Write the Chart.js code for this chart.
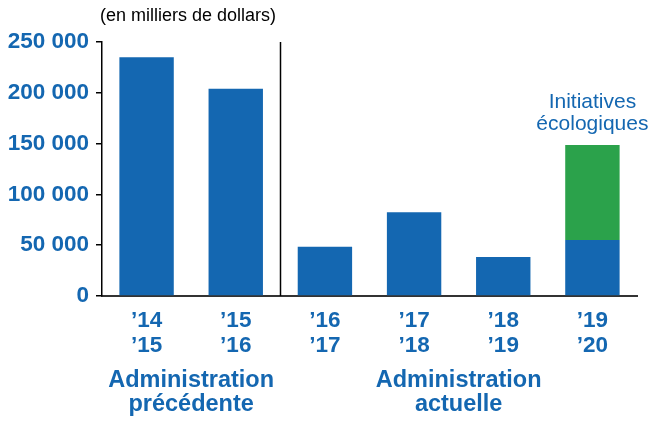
<!DOCTYPE html>
<html>
<head>
<meta charset="utf-8">
<script src="https://cdn.jsdelivr.net/npm/chart.js@4/dist/chart.umd.min.js"></script>
<style>
  html, body { margin: 0; padding: 0; background: #fff; }
  #wrap { width: 649px; height: 422px; position: relative; }
</style>
</head>
<body>
<div id="wrap"><canvas id="budgetChart"></canvas></div>
<script>
// exercices financiers (deux lignes par etiquette)
var yearsTop    = ['\u201914', '\u201915', '\u201916', '\u201917', '\u201918', '\u201919'];
var yearsBottom = ['\u201915', '\u201916', '\u201917', '\u201918', '\u201919', '\u201920'];
// en milliers de dollars
var baseValues  = [235000, 204000, 48500, 82500, 38500, 55000];
var greenValues = [0, 0, 0, 0, 0, 93500];
var yTicks      = [0, 50000, 100000, 150000, 200000, 250000];
var groupNames  = [['Administration', 'précédente'], ['Administration', 'actuelle']];
var groupSpans  = [[0, 1], [2, 5]];
var noteText    = ['Initiatives', 'écologiques'];
var unitText    = '(en milliers de dollars)';

var blue  = '#1467b1';
var green = '#2ba24b';
var font  = '"Liberation Sans", Arial, sans-serif';

var fmt = function(v) {
    return String(v).replace(/\B(?=(\d{3})+(?!\d))/g, ' ');
};

// divider, group names, note and unit label
var extras = {
    id: 'extras',
    afterDraw: function(chart) {
        var ctx = chart.ctx;
        var x = chart.scales.x, y = chart.scales.y;
        var area = chart.chartArea;

        ctx.save();
        // vertical divider between the two administrations
        var dx = Math.round((x.getPixelForValue(1) + x.getPixelForValue(2)) / 2) + 0.5;
        ctx.strokeStyle = '#000';
        ctx.lineWidth = 1.5;
        ctx.beginPath();
        ctx.moveTo(dx, area.top);
        ctx.lineTo(dx, area.bottom);
        ctx.stroke();

        // unit
        ctx.fillStyle = '#000';
        ctx.font = '18px ' + font;
        ctx.textAlign = 'left';
        ctx.textBaseline = 'middle';
        ctx.fillText(unitText, 100, 16);

        // groups
        ctx.fillStyle = blue;
        ctx.font = 'bold 23.5px ' + font;
        ctx.textAlign = 'center';
        ctx.textBaseline = 'alphabetic';
        groupNames.forEach(function(lines, i) {
            var gx = (x.getPixelForValue(groupSpans[i][0]) + x.getPixelForValue(groupSpans[i][1])) / 2;
            lines.forEach(function(t, j) {
                ctx.fillText(t, gx, area.bottom + 91 + j * 23.5);
            });
        });

        // note above the green segment
        var last = baseValues.length - 1;
        var nx = x.getPixelForValue(last);
        var ny = y.getPixelForValue(baseValues[last] + greenValues[last]);
        ctx.font = '21px ' + font;
        ctx.fillText(noteText[0], nx, ny - 37);
        ctx.fillText(noteText[1], nx, ny - 15);
        ctx.restore();
    }
};

var chart = new Chart(document.getElementById('budgetChart'), {
    type: 'bar',
    data: {
        labels: yearsTop.map(function(t, i) { return [t, yearsBottom[i]]; }),
        datasets: [{
            data: baseValues,
            backgroundColor: blue,
            barPercentage: 0.61,
            categoryPercentage: 1
        }, {
            data: greenValues,
            backgroundColor: green,
            barPercentage: 0.61,
            categoryPercentage: 1
        }]
    },
    options: {
        responsive: true,
        maintainAspectRatio: false,
        animation: false,
        layout: { padding: { top: 42, right: 12, left: 0, bottom: 0 } },
        plugins: {
            legend: { display: false },
            tooltip: { enabled: false }
        },
        scales: {
            x: {
                stacked: true,
                grid: { display: false, drawTicks: false },
                border: { display: true, color: '#333', width: 2 },
                ticks: {
                    color: blue,
                    font: { family: font, size: 22.5, weight: 'bold', lineHeight: 1.08 },
                    padding: 13,
                    maxRotation: 0
                },
                afterFit: function(scale) { scale.height = 126; }
            },
            y: {
                stacked: true,
                min: 0,
                max: 250000,
                afterBuildTicks: function(scale) {
                    scale.ticks = yTicks.map(function(v) { return { value: v }; });
                },
                grid: { drawOnChartArea: false, drawTicks: true, tickLength: 6, color: '#000', lineWidth: 1.5 },
                border: { display: true, color: '#000', width: 1.5 },
                ticks: {
                    color: blue,
                    font: { family: font, size: 22.5, weight: 'bold' },
                    padding: 7,
                    callback: function(v) { return fmt(v); }
                },
                afterFit: function(scale) { scale.width = 102; }
            }
        }
    },
    plugins: [extras]
});
</script>
</body>
</html>
